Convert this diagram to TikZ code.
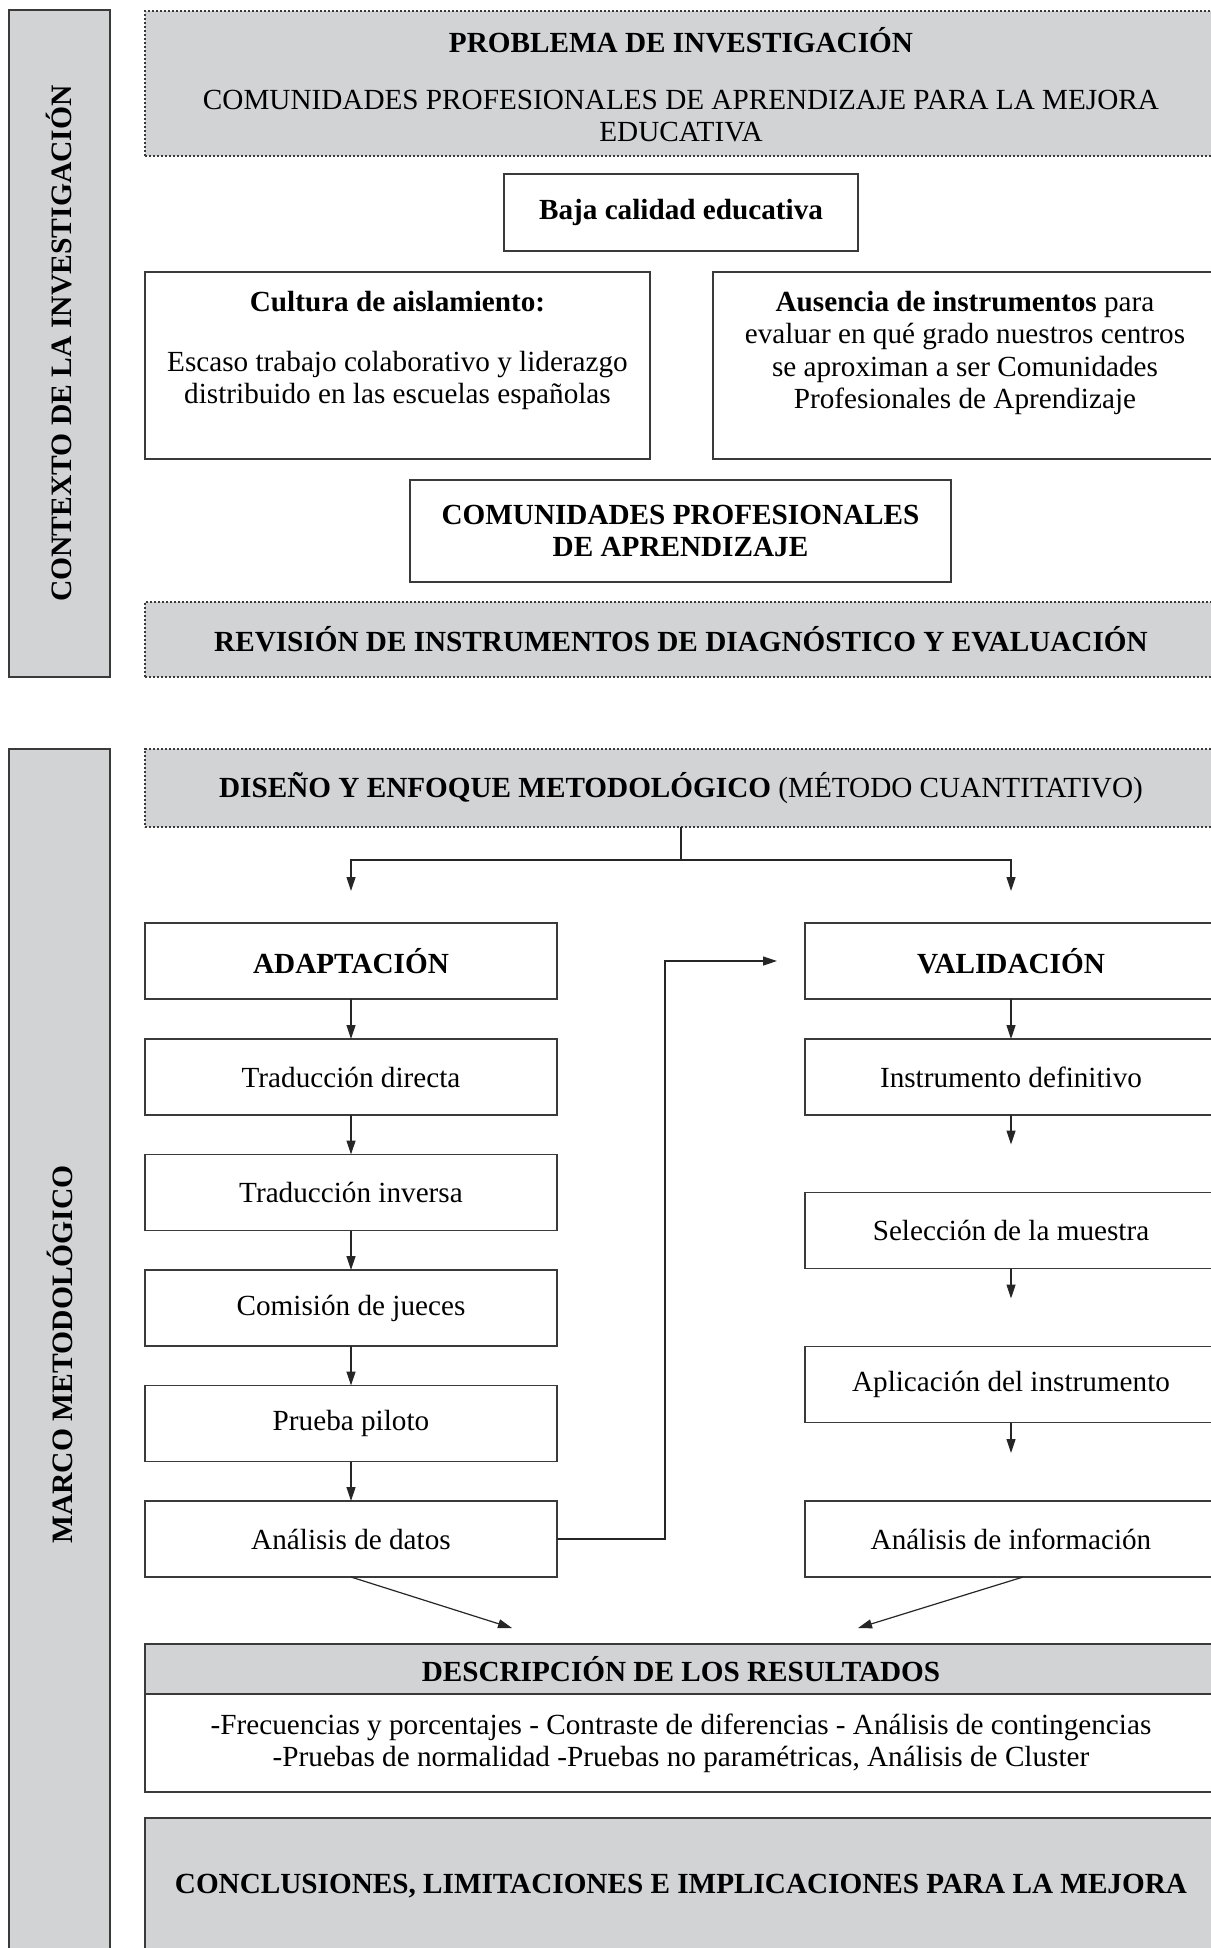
\documentclass[tikz,border=0pt]{standalone}
\usepackage{fontspec}
\setmainfont{Liberation Serif}
\usetikzlibrary{arrows.meta,calc}
\definecolor{panel}{HTML}{D1D3D4}
\definecolor{edge}{HTML}{3A3A3A}
\begin{document}
\begin{tikzpicture}[x=0.5pt,y=-0.5pt,
  every node/.style={inner sep=0pt, outer sep=0pt, font=\fontsize{14.6}{16}\selectfont, text=black, align=center},
  solidbox/.style={draw=edge, line width=0.7pt, fill=white},
  greybox/.style={draw=edge, line width=0.7pt, fill=panel},
  dotbox/.style={draw=edge, line width=0.6pt, dash pattern=on 1.2pt off 0.8pt, fill=panel},
  wide/.style={minimum width=536pt},
  flow/.style={solidbox, minimum width=206pt, minimum height=38pt},
  conn/.style={draw=black!85, line width=0.6pt},
  arr/.style={conn, -{Triangle[length=7pt,width=4.5pt]}},
  sidelabel/.style={rotate=90, font=\fontsize{14.8}{16}\selectfont\bfseries},
]
\useasboundingbox (0,0) rectangle (1210,1948);
\fill[white] (0,0) rectangle (1210,1948);

% ---------- side bars ----------
\node[greybox, minimum width=50.5pt, minimum height=333.5pt] (side1) at (59.5,343.5) {};
\node[sidelabel] (side1t) at (side1) {CONTEXTO DE LA INVESTIGACIÓN};
\node[greybox, minimum width=50.5pt, minimum height=605.5pt] (side2) at (59.5,1354.5) {};
\node[sidelabel] (side2t) at (side2) {MARCO METODOLÓGICO};

% ---------- context part ----------
\node[dotbox, wide, minimum height=72.5pt] (prob) at (681,83.5) {};
\node (probt) at (681,84.5) {\textbf{PROBLEMA DE INVESTIGACIÓN}\\[12.5pt]
  COMUNIDADES PROFESIONALES DE APRENDIZAJE PARA LA MEJORA\\EDUCATIVA};

\node[solidbox, minimum width=177pt, minimum height=38.5pt] (baja) at (681,212.5) {\textbf{Baja calidad educativa}};

\node[solidbox, minimum width=252.5pt, minimum height=93.5pt] (cult) at (397.5,365.5) {};
\node (cultt) at (397.5,350) {\textbf{Cultura de aislamiento:}\\[14pt]
  Escaso trabajo colaborativo y liderazgo\\distribuido en las escuelas españolas};

\node[solidbox, minimum width=252pt, minimum height=93.5pt] (aus) at (965,365.5) {};
\node[font=\fontsize{14.6}{16.3}\selectfont] (aust) at (965,353) {\textbf{Ausencia de instrumentos} para\\
  evaluar en qué grado nuestros centros\\se aproximan a ser Comunidades\\Profesionales de Aprendizaje};

\node[solidbox, minimum width=270.5pt, minimum height=51pt] (cpa) at (680.5,531) {\textbf{COMUNIDADES PROFESIONALES}\\\textbf{DE APRENDIZAJE}};

\node[dotbox, wide, minimum height=37.5pt] (rev) at (681,639.5) {\textbf{REVISIÓN DE INSTRUMENTOS DE DIAGNÓSTICO Y EVALUACIÓN}};

% ---------- method part ----------
\node[dotbox, wide, minimum height=39pt] (dis) at (681,788) {\textbf{DISEÑO Y ENFOQUE METODOLÓGICO} (MÉTODO CUANTITATIVO)};

\node[flow] (adap) at (351,961) {\textbf{ADAPTACIÓN}};
\node[flow] (td) at (351,1077) {Traducción directa};
\node[flow] (ti) at (351,1192.5) {Traducción inversa};
\node[flow] (cj) at (351,1308) {Comisión de jueces};
\node[flow] (pp) at (351,1423.5) {Prueba piloto};
\node[flow] (ad) at (351,1539) {Análisis de datos};

\node[flow] (val) at (1011,961) {\textbf{VALIDACIÓN}};
\node[flow] (inst) at (1011,1077) {Instrumento definitivo};
\node[flow] (sel) at (1011,1230.5) {Selección de la muestra};
\node[flow] (apl) at (1011,1384.5) {Aplicación del instrumento};
\node[flow] (ai) at (1011,1539) {Análisis de información};

\node[greybox, wide, minimum height=25pt] (desch) at (681,1669) {\textbf{DESCRIPCIÓN DE LOS RESULTADOS}};
\node[solidbox, wide, minimum height=49pt] (descb) at (681,1743) {-Frecuencias y porcentajes - Contraste de diferencias - Análisis de contingencias\\
  -Pruebas de normalidad -Pruebas no paramétricas, Análisis de Cluster};

\node[greybox, wide, minimum height=68.5pt] (concl) at (681,1886.5) {\textbf{CONCLUSIONES, LIMITACIONES E IMPLICACIONES PARA LA MEJORA}};

% ---------- connectors ----------
\coordinate (split) at (681,860);
\draw[conn] (dis.south) -- (split);
\draw[arr, shorten >=16pt] (split) -| (adap.north);
\draw[arr, shorten >=16pt] (split) -| (val.north);

\draw[arr] (adap) -- (td);
\draw[arr] (td) -- (ti);
\draw[arr] (ti) -- (cj);
\draw[arr] (cj) -- (pp);
\draw[arr] (pp) -- (ad);

\draw[arr] (val) -- (inst);
\draw[arr, shorten >=24pt] (inst) -- (sel);
\draw[arr, shorten >=24pt] (sel) -- (apl);
\draw[arr, shorten >=24pt] (apl) -- (ai);

\coordinate (elb) at (665,961);
\draw[arr, shorten >=14pt] (ad.east) -| (elb) -- (val.west);

\coordinate (dl) at (512,1628);
\coordinate (dr) at (858,1628);
\draw[arr] (ad.south) -- (dl);
\draw[arr] ([xshift=6pt]ai.south) -- (dr);
\end{tikzpicture}
\end{document}
